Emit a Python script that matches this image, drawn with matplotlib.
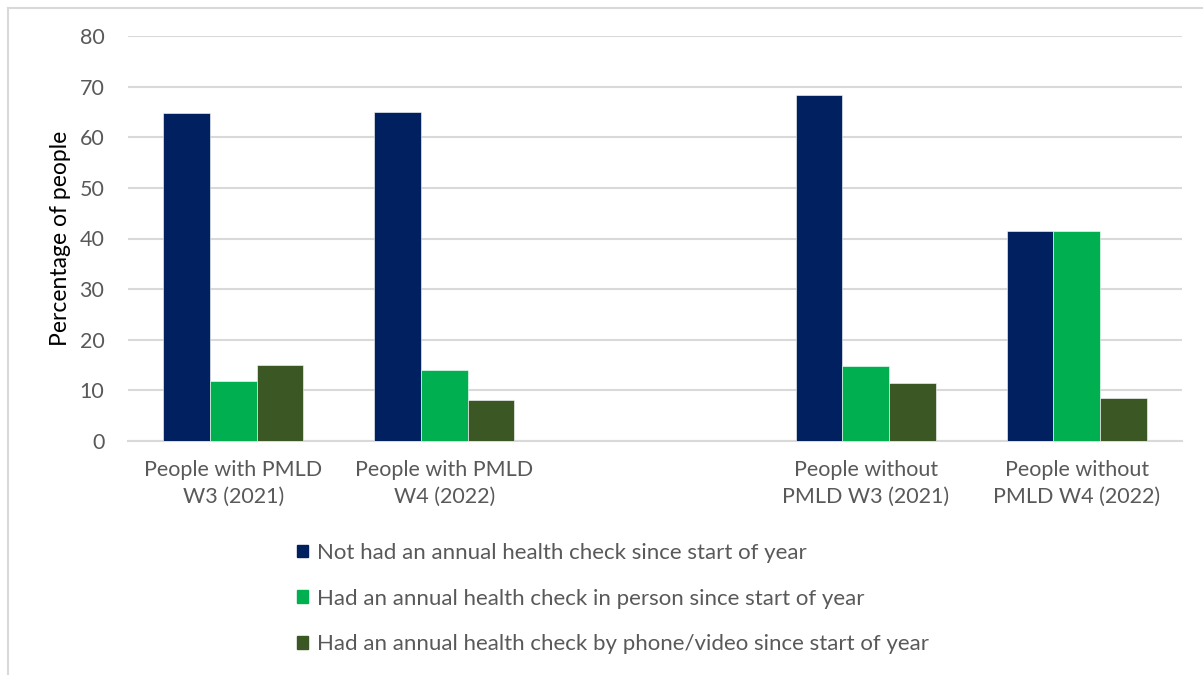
import matplotlib
matplotlib.use("Agg")
import matplotlib.pyplot as plt
from matplotlib.lines import Line2D
import numpy as np

categories = [
    "People with PMLD\nW3 (2021)",
    "People with PMLD\nW4 (2022)",
    "People without\nPMLD W3 (2021)",
    "People without\nPMLD W4 (2022)",
]
series_names = [
    "Not had an annual health check since start of year",
    "Had an annual health check in person since start of year",
    "Had an annual health check by phone/video since start of year",
]
not_had = [64.7, 65.0, 68.3, 41.5]
in_person = [11.8, 14.0, 14.9, 41.5]
phone_video = [15.1, 8.1, 11.5, 8.5]
colors = ["#002060", "#00B050", "#3A5724"]
yticks = [0, 10, 20, 30, 40, 50, 60, 70, 80]

plt.rcParams["font.family"] = ["Lato", "DejaVu Sans"]
text_grey = "#595959"
grid_grey = "#D9D9D9"

fig = plt.figure(figsize=(12.03, 6.75), dpi=100)
ax = fig.add_axes([128 / 1203, 1 - 441 / 675, (1182 - 128) / 1203, (441 - 36) / 675])

# two pairs of groups separated by an empty slot
slot = np.array([0, 1, 3, 4])
bar_w = 0.2215
for i, (vals, name, col) in enumerate(zip([not_had, in_person, phone_video], series_names, colors)):
    ax.bar(slot + (i - 1) * bar_w, vals, width=bar_w, color=col, label=name,
           edgecolor="white", linewidth=0.4, zorder=3)

ax.set_xlim(-0.5, 4.5)
ax.set_ylim(0, 80)
ax.set_yticks(yticks)
ax.set_yticklabels([str(t) for t in yticks], fontsize=15.5, color=text_grey)
ax.set_xticks(slot)
ax.set_xticklabels(categories, fontsize=15.5, color=text_grey, linespacing=1.4)
ax.tick_params(axis="both", length=0)
ax.tick_params(axis="y", pad=17)
ax.tick_params(axis="x", pad=14)
ax.yaxis.grid(True, color=grid_grey, linewidth=1.5, zorder=0)
ax.set_axisbelow(True)
for side in ["top", "right", "left"]:
    ax.spines[side].set_visible(False)
ax.spines["bottom"].set_color(grid_grey)
ax.spines["bottom"].set_linewidth(1.5)
ax.set_ylabel("Percentage of people", fontsize=16.5, color="black", labelpad=6)

handles = [plt.Rectangle((0, 0), 1, 1, color=c) for c in colors]
fig.legend(handles, series_names, loc="upper left", bbox_to_anchor=(297 / 1203, 1 - 543 / 675),
           frameon=False, fontsize=16, labelcolor=text_grey, handlelength=0.5,
           handleheight=0.5, handletextpad=0.4, labelspacing=1.15, borderaxespad=0,
           borderpad=0)

# outer chart frame (left and top edges)
fig.add_artist(Line2D([7.5 / 1203, 7.5 / 1203], [0, 1 - 7.5 / 675], color=grid_grey, linewidth=1.5,
                      transform=fig.transFigure))
fig.add_artist(Line2D([7.5 / 1203, 1], [1 - 7.5 / 675, 1 - 7.5 / 675], color=grid_grey, linewidth=1.5,
                      transform=fig.transFigure))

fig.savefig("out.png", dpi=100)
